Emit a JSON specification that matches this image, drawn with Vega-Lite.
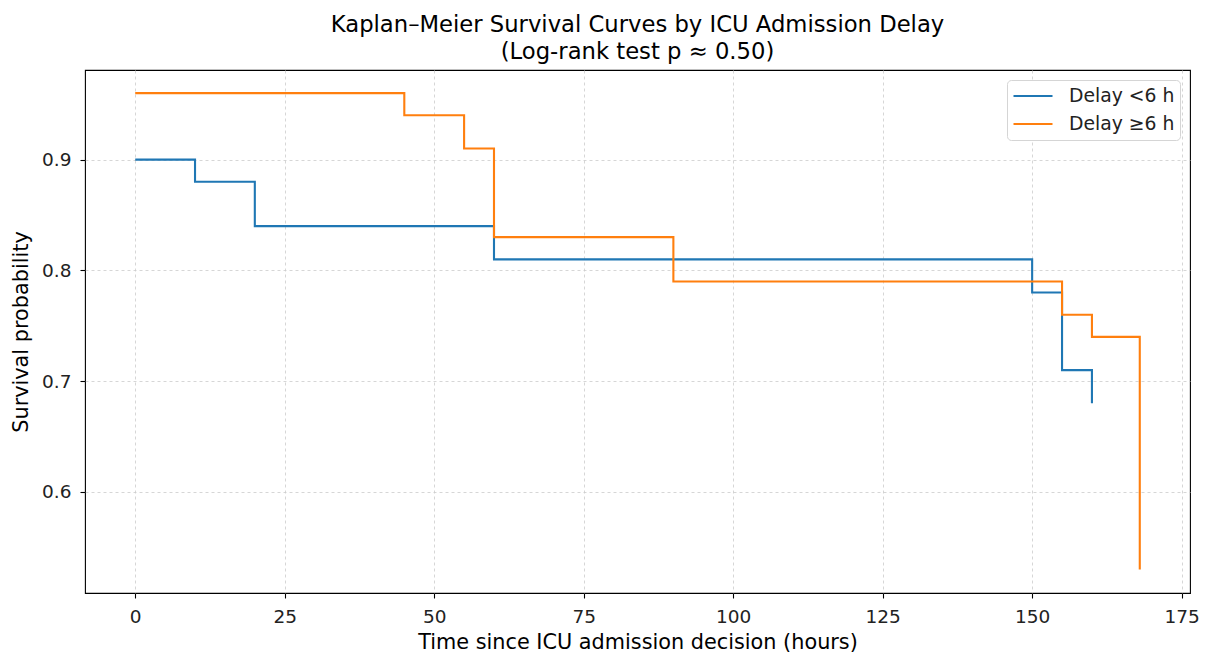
{
  "$schema": "https://vega.github.io/schema/vega-lite/v6.json",
  "autosize": "none",
  "width": 1105,
  "height": 523,
  "padding": {"left": 85, "top": 70, "right": 15, "bottom": 62},
  "background": "white",
  "config": {
    "font": "DejaVu Sans",
    "view": {"stroke": "black", "strokeWidth": 1.1}
  },
  "title": {
    "text": ["Kaplan–Meier Survival Curves by ICU Admission Delay", "(Log-rank test p ≈ 0.50)"],
    "font": "DejaVu Sans",
    "fontSize": 22.7,
    "fontWeight": "normal",
    "color": "black",
    "anchor": "middle",
    "lineHeight": 27,
    "offset": 6
  },
  "data": {
    "values": [
      {"group": "Delay <6 h", "t": 0, "s": 0.90},
      {"group": "Delay <6 h", "t": 10, "s": 0.88},
      {"group": "Delay <6 h", "t": 20, "s": 0.84},
      {"group": "Delay <6 h", "t": 60, "s": 0.81},
      {"group": "Delay <6 h", "t": 150, "s": 0.78},
      {"group": "Delay <6 h", "t": 155, "s": 0.71},
      {"group": "Delay <6 h", "t": 160, "s": 0.68},
      {"group": "Delay ≥6 h", "t": 0, "s": 0.96},
      {"group": "Delay ≥6 h", "t": 45, "s": 0.94},
      {"group": "Delay ≥6 h", "t": 55, "s": 0.91},
      {"group": "Delay ≥6 h", "t": 60, "s": 0.83},
      {"group": "Delay ≥6 h", "t": 90, "s": 0.79},
      {"group": "Delay ≥6 h", "t": 155, "s": 0.76},
      {"group": "Delay ≥6 h", "t": 160, "s": 0.74},
      {"group": "Delay ≥6 h", "t": 168, "s": 0.53}
    ]
  },
  "mark": {"type": "line", "interpolate": "step-after", "strokeWidth": 2.1},
  "encoding": {
    "x": {
      "field": "t",
      "type": "quantitative",
      "scale": {"domain": [-8.4, 176.4], "nice": false, "zero": false},
      "axis": {
        "title": "Time since ICU admission decision (hours)",
        "values": [0, 25, 50, 75, 100, 125, 150, 175],
        "domain": false,
        "tickColor": "black",
        "tickSize": 5,
        "tickWidth": 1.1,
        "labelFontSize": 18.5,
        "labelColor": "#222222",
        "labelPadding": 9,
        "titleFontSize": 20.8,
        "titleFontWeight": "normal",
        "titleColor": "black",
        "titlePadding": 7,
        "grid": true,
        "gridDash": [3, 3],
        "gridColor": "#cccccc",
        "gridWidth": 0.8
      }
    },
    "y": {
      "field": "s",
      "type": "quantitative",
      "scale": {"domain": [0.5088, 0.9809], "nice": false, "zero": false},
      "axis": {
        "title": "Survival probability",
        "values": [0.6, 0.7, 0.8, 0.9],
        "format": ".1f",
        "domain": false,
        "tickColor": "black",
        "tickSize": 5,
        "tickWidth": 1.1,
        "labelFontSize": 18.5,
        "labelColor": "#222222",
        "labelPadding": 9,
        "titleFontSize": 20.8,
        "titleFontWeight": "normal",
        "titleColor": "black",
        "titlePadding": 10,
        "grid": true,
        "gridDash": [3, 3],
        "gridColor": "#cccccc",
        "gridWidth": 0.8
      }
    },
    "color": {
      "field": "group",
      "type": "nominal",
      "scale": {"domain": ["Delay <6 h", "Delay ≥6 h"], "range": ["#1f77b4", "#ff7f0e"]},
      "legend": {
        "title": null,
        "orient": "top-right",
        "offset": 10,
        "symbolType": "stroke",
        "symbolStrokeWidth": 2.1,
        "symbolSize": 1521,
        "clipHeight": 22,
        "labelFontSize": 18.8,
        "labelColor": "#222222",
        "labelOffset": 15,
        "rowPadding": 6,
        "padding": 5,
        "strokeColor": "#d5d5d5",
        "fillColor": "white",
        "cornerRadius": 4
      }
    }
  }
}
